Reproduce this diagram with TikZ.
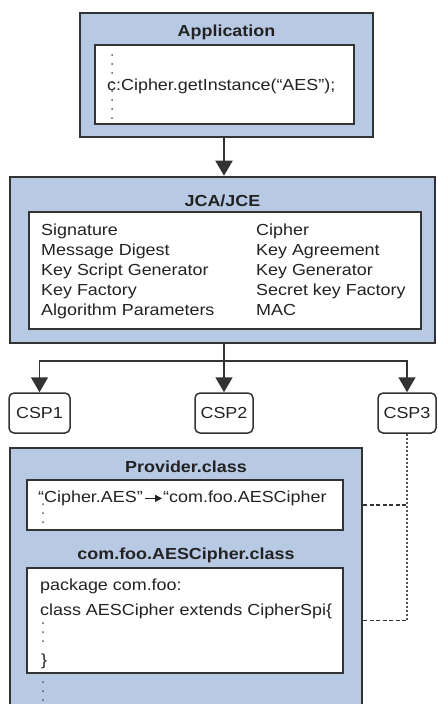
\documentclass[tikz,border=0pt]{standalone}
\usepackage{fontspec}
\setmainfont[FakeStretch=1.12]{Liberation Sans}
\usetikzlibrary{arrows.meta}
\definecolor{boxblue}{HTML}{B8C9E3}
\definecolor{edge}{HTML}{333333}
\definecolor{ink}{HTML}{222222}
\definecolor{dotc}{HTML}{555555}
\begin{document}
\begin{tikzpicture}[x=1pt,y=-1pt,
  outerbox/.style={draw=edge, fill=boxblue, line width=2.6pt, inner sep=0pt},
  innerbox/.style={draw=edge, fill=white, line width=2pt, inner sep=0pt},
  cspbox/.style={draw=edge, fill=white, line width=1.5pt, rounded corners=5pt, inner sep=0pt,
    minimum height=40pt, font=\fontsize{16}{20}\selectfont, text=ink},
  txt/.style={font=\fontsize{16}{20}\selectfont, text=ink, inner sep=0pt},
  ttl/.style={font=\fontsize{16}{20}\selectfont\bfseries, text=ink, inner sep=0pt},
  arr/.style={draw=edge, line width=2pt, -{Triangle[width=17pt,length=15pt]}},
  thinarr/.style={draw=edge, line width=1.6pt, -{Triangle[width=17pt,length=15pt]}},
  dots/.style={draw=dotc, line width=2pt, line cap=round, dash pattern=on 0pt off 9pt},
  densedots/.style={draw=dotc, line width=2pt, dash pattern=on 2pt off 2pt},
  dashline/.style={draw=edge, line width=1.4pt, dash pattern=on 4pt off 2.5pt}]
\useasboundingbox (0,0) rectangle (437,704);

% Application
\node[outerbox, minimum width=293pt, minimum height=124pt] (app) at (226.5,75) {};
\node[innerbox, minimum width=259pt, minimum height=79pt] (appin) at (224.5,84.5) {};
\node[ttl, anchor=base] (apptitle) at (226.5,36) {Application};
\draw[dots] (112,55) -- (112,118);
\node[txt, anchor=base west] (appcode) at (107,90) {c:Cipher.getInstance(“AES”);};

% JCA/JCE
\node[outerbox, minimum width=425pt, minimum height=166pt] (jca) at (222.5,260) {};
\node[innerbox, minimum width=392pt, minimum height=117pt] (jcain) at (225,270.5) {};
\node[ttl, anchor=base] (jcatitle) at (222.5,206) {JCA/JCE};
\node[txt, anchor=base west] (l1) at (41,235) {Signature};
\node[txt, anchor=base west] (l2) at (41,255.2) {Message Digest};
\node[txt, anchor=base west] (l3) at (41,275.4) {Key Script Generator};
\node[txt, anchor=base west] (l4) at (41,295.6) {Key Factory};
\node[txt, anchor=base west] (l5) at (41,315.8) {Algorithm Parameters};
\node[txt, anchor=base west] (r1) at (256,235) {Cipher};
\node[txt, anchor=base west] (r2) at (256,255.2) {Key Agreement};
\node[txt, anchor=base west] (r3) at (256,275.4) {Key Generator};
\node[txt, anchor=base west] (r4) at (256,295.6) {Secret key Factory};
\node[txt, anchor=base west] (r5) at (256,315.8) {MAC};

% CSP boxes
\node[cspbox, minimum width=61pt] (csp1) at (39.5,413) {CSP1};
\node[cspbox, minimum width=58pt] (csp2) at (224,413) {CSP2};
\node[cspbox, minimum width=58pt] (csp3) at (407,413) {CSP3};

% Connectors
\draw[arr] (app.south -| csp2.north) -- (jca.north -| csp2.north);
\coordinate (split) at (224,361);
\draw[thinarr] (jca.south -| csp2.north) -- (csp2.north);
\draw[thinarr] (split) -| (csp1.north);
\draw[thinarr] (split) -| (csp3.north);

% Provider
\node[outerbox, minimum width=352pt, minimum height=272pt] (prov) at (186,584) {};
\node[ttl, anchor=base] (provtitle) at (186,472) {Provider.class};
\node[innerbox, minimum width=316pt, minimum height=50pt] (pin1) at (185,505) {};
\draw[dots] (43,504) -- (43,524);
\node[txt, anchor=base west] (q1) at (38,502.5) {“Cipher.AES”};
\node[txt, anchor=base west] (q2) at (163,502.5) {“com.foo.AESCipher};
\draw[draw=ink, line width=1.2pt, -{Triangle[width=7pt,length=7pt]}] ([xshift=2pt]q1.east) -- ([xshift=-1pt]q2.west);
\node[ttl, anchor=base] (aestitle) at (186,559) {com.foo.AESCipher.class};
\node[innerbox, minimum width=316pt, minimum height=105pt] (pin2) at (185,620.5) {};
\node[txt, anchor=base west] (pk) at (40,590) {package com.foo:};
\node[txt, anchor=base west] (cl) at (40,615) {class AESCipher extends CipherSpi\{};
\draw[dots] (43,623) -- (43,647);
\node[txt, anchor=center] (brace) at (44,661) {\}};
\draw[dots] (43,682) -- (43,705);

% Dashed links to CSP3
\coordinate (d1) at (prov.east |- pin1.east);
\coordinate (d2) at (prov.east |- pin2.east);
\draw[densedots] (csp3.south) -- (csp3.south |- d2);
\draw[dashline] (d1) -- (csp3.south |- d1);
\draw[dashline] (d2) -- (csp3.south |- d2);
\end{tikzpicture}
\end{document}
